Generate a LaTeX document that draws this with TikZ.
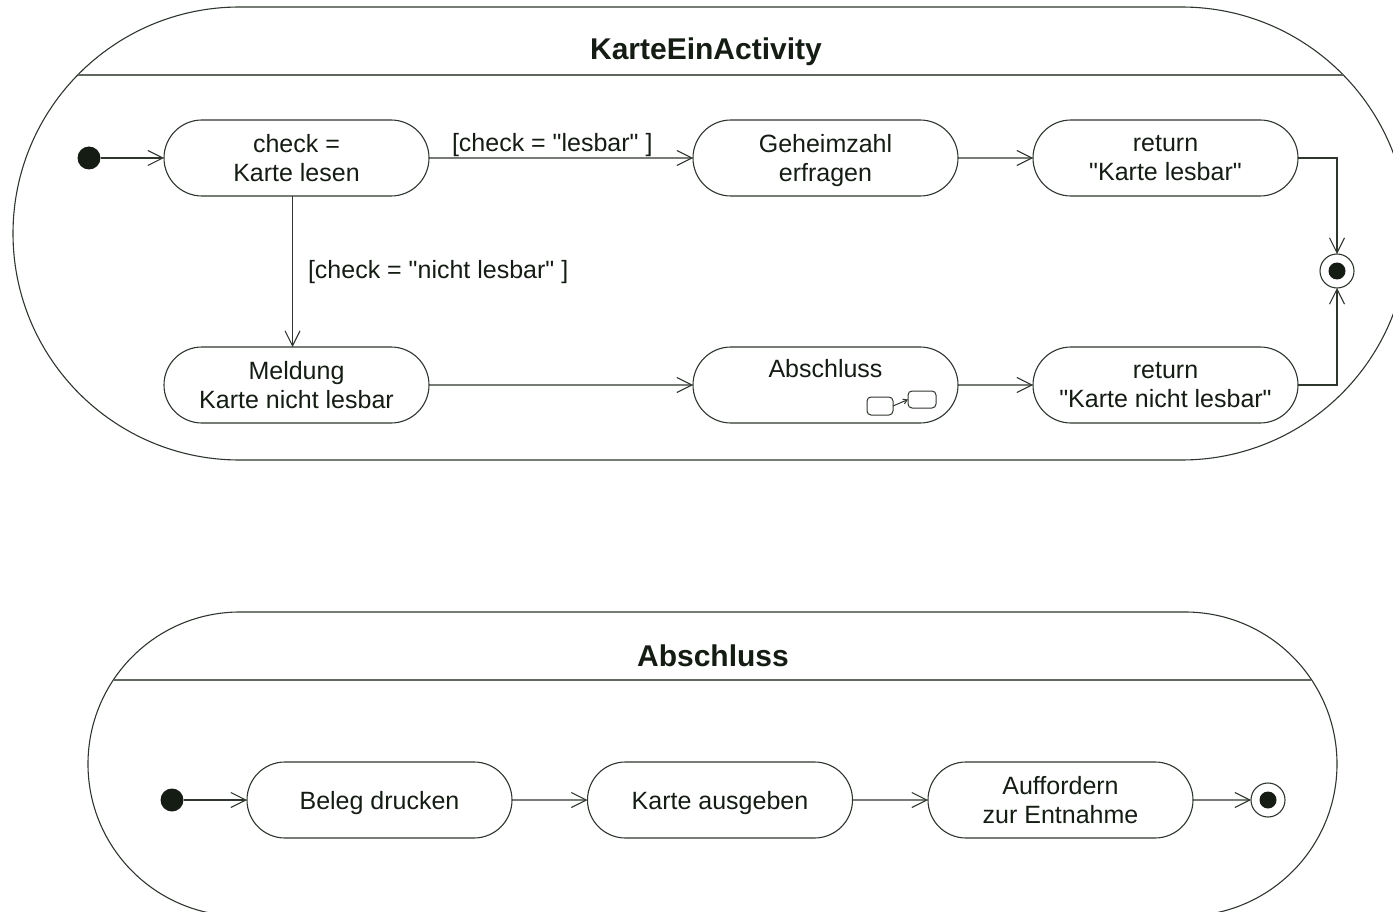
\documentclass[tikz,border=0pt]{standalone}
\usepackage{fontspec}
\setmainfont{Liberation Sans}[Ligatures=TeXOff]
\usetikzlibrary{shapes.misc, arrows.meta}
\definecolor{ink}{HTML}{141C14}
\definecolor{edge}{HTML}{2E362E}
\definecolor{rulecol}{HTML}{5F675F}

\begin{document}
\begin{tikzpicture}[x=1pt, y=-1pt,
  every node/.style={text=ink, inner sep=0pt, outer sep=0pt},
  frame/.style={draw=edge, line width=1.1pt, rounded rectangle},
  divider/.style={draw=rulecol, line width=1.6pt},
  action/.style={draw=edge, line width=1.1pt, rounded rectangle,
    minimum width=265pt, minimum height=76pt, align=center,
    font=\fontsize{25}{29.5}\selectfont},
  oneline/.style={text height=18pt, text depth=0pt},
  guard/.style={font=\fontsize{25}{29.5}\selectfont},
  heading/.style={font=\bfseries\fontsize{30}{36}\selectfont},
  initnode/.style={circle, fill=ink, minimum size=23pt},
  finalnode/.style={circle, draw=edge, line width=1.1pt, minimum size=34pt,
    path picture={\fill[ink] (path picture bounding box.center) circle (8.5pt);}},
  minibox/.style={draw=edge, line width=1pt, rounded corners=4pt},
  flow/.style={draw=edge, line width=1.1pt, -{Straight Barb[length=15pt, width=15pt]}},
]
\useasboundingbox (0,0) rectangle (1393,912);
\clip (0,0) rectangle (1393,912);

% ---------- KarteEinActivity ----------
\node[frame, minimum width=1395pt, minimum height=453pt] (fa) at (710.5,233.5) {};
\node[heading, anchor=base] (ta) at (706,60) {KarteEinActivity};
\draw[divider] (78,75) -- (1343,75);

\node[initnode] (ia) at (89,158) {};
\node[action] (check) at (296.5,158) {check =\\Karte lesen};
\node[action] (pin) at (825.5,158) {Geheimzahl\\\smash{erfragen}};
\node[action] (ok) at (1165.5,158) {return\\"Karte lesbar"};
\node[action] (msg) at (296.5,385) {Meldung\\Karte nicht lesbar};
\node[action] (fin) at (825.5,385) {};
\node[guard, anchor=base] (fintext) at (825.5,377) {Abschluss};
\node[action] (nok) at (1165.5,385) {return\\"Karte nicht lesbar"};
\node[finalnode] (fa-end) at (1337,271) {};

% sub-activity marker
\node[minibox, minimum width=26pt, minimum height=18pt] (sub1) at (880,406) {};
\node[minibox, minimum width=28pt, minimum height=17pt] (sub2) at (922,399.5) {};
\draw[draw=edge, line width=1pt, -{Straight Barb[length=4pt, width=5pt]}] (sub1.east) -- (sub2.west);

\draw[flow] (ia) -- (check);
\draw[flow] (check) -- (pin);
\node[guard, anchor=base west] (g1) at (452,152) {[check = "lesbar" ]};
\draw[flow] (pin) -- (ok);
\draw[flow] (ok.east) -| (fa-end.north);
\draw[flow] ([xshift=-4pt]check.south) -- ([xshift=-4pt]msg.north);
\node[guard, anchor=base west] (g2) at (308,279) {[check = "nicht lesbar" ]};
\draw[flow] (msg) -- (fin);
\draw[flow] (fin) -- (nok);
\draw[flow] (nok.east) -| (fa-end.south);

% ---------- Abschluss ----------
\node[frame, minimum width=1249pt, minimum height=304pt] (fb) at (712.5,764) {};
\node[heading, anchor=base] (tb) at (713,666) {Abschluss};
\draw[divider] (114,680) -- (1311,680);

\node[initnode] (ib) at (172,800) {};
\node[action, oneline] (print) at (379.5,800) {Beleg drucken};
\node[action, oneline] (eject) at (720,800) {Karte ausgeben};
\node[action] (take) at (1060.5,800) {Auffordern\\zur Entnahme};
\node[finalnode] (fb-end) at (1268,800) {};

\draw[flow] (ib) -- (print);
\draw[flow] (print) -- (eject);
\draw[flow] (eject) -- (take);
\draw[flow] (take) -- (fb-end);
\end{tikzpicture}
\end{document}
